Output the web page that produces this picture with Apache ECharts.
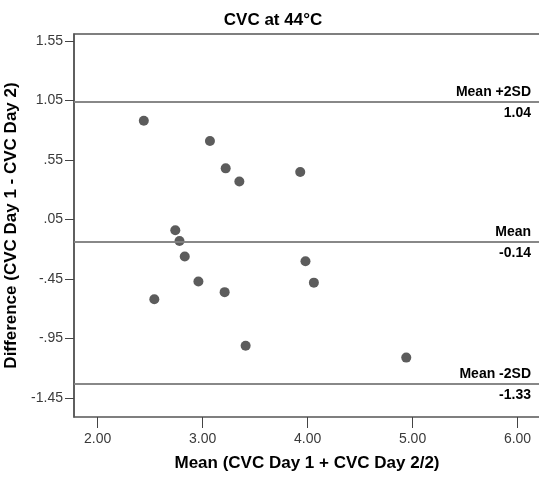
<!DOCTYPE html>
<html><head><meta charset="utf-8">
<script src="https://cdn.jsdelivr.net/npm/echarts@6/dist/echarts.min.js"></script>
<style>html,body{margin:0;padding:0;background:#fff}#c{width:539px;height:477px}</style>
</head><body><div id="c"></div>
<script>
var meanX = [2.44, 3.07, 3.22, 3.35, 3.93, 2.74, 2.78, 2.83, 2.96, 2.54, 3.21, 3.41, 3.98, 4.06, 4.94];
var diffY = [0.88, 0.71, 0.48, 0.37, 0.45, -0.04, -0.13, -0.26, -0.47, -0.62, -0.56, -1.01, -0.30, -0.48, -1.11];
var xTicks = [2, 3, 4, 5, 6];
var yTicks = [-1.45, -0.95, -0.45, 0.05, 0.55, 1.05, 1.55];
var refNames = ['Mean +2SD', 'Mean', 'Mean -2SD'];
var refValues = [1.04, -0.14, -1.33];

var font = 'Liberation Sans, Arial, sans-serif';
function yFmt(v){
  var s = v.toFixed(2);
  s = s.replace(/^0\./, '.').replace(/^-0\./, '-.');
  return s;
}
var pts = meanX.map(function(x,i){return [x, diffY[i]];});
var lineData = [];
refNames.forEach(function(n,i){
  lineData.push({yAxis: refValues[i], label:{formatter:n, position:'insideEndTop', distance:[9,3]}});
  lineData.push({yAxis: refValues[i], label:{formatter:refValues[i].toFixed(2), position:'insideEndBottom', distance:[9,4]}});
});
var chart = echarts.init(document.getElementById('c'));
chart.setOption({
  animation:false,
  title:{text:'CVC at 44°C', left:268, top:7, textAlign:'center',
    textStyle:{fontFamily:font, fontSize:17, fontWeight:'bold', color:'#000'}},
  grid:{left:74, right:-1, top:34, bottom:60, show:true, borderColor:'#555', borderWidth:1.5, backgroundColor:'#fff', outerBoundsMode:'none', containLabel:false},
  xAxis:{type:'value', min:1.775, max:6.214,
    name:'Mean (CVC Day 1 + CVC Day 2/2)', nameLocation:'middle', nameGap:38,
    nameTextStyle:{fontFamily:font, fontSize:17, fontWeight:'bold', color:'#000'},
    axisLine:{show:false, onZero:false},
    axisTick:{show:true, customValues:xTicks, length:11, lineStyle:{color:'#444'}},
    axisLabel:{customValues:xTicks, formatter:function(v){return v.toFixed(2);}, fontFamily:font, fontSize:14, color:'#3a3a3a', margin:15},
    splitLine:{show:false}},
  yAxis:{type:'value', min:-1.609, max:1.609,
    name:'Difference (CVC Day 1 - CVC Day 2)', nameLocation:'middle', nameGap:48,
    nameTextStyle:{fontFamily:font, fontSize:17, fontWeight:'bold', color:'#000'},
    axisLine:{show:true, onZero:false, lineStyle:{color:'#555', width:1.5}},
    axisTick:{show:true, customValues:yTicks, length:9, lineStyle:{color:'#444'}},
    axisLabel:{customValues:yTicks, formatter:yFmt, fontFamily:font, fontSize:14, color:'#3a3a3a', margin:11},
    splitLine:{show:false}},
  series:[{type:'scatter', data:pts, symbolSize:10, itemStyle:{color:'#5c5c5c', opacity:1},
    markLine:{silent:true, symbol:'none', animation:false,
      lineStyle:{color:'#808080', width:1.5, type:'solid'},
      label:{fontFamily:font, fontSize:14, fontWeight:'bold', color:'#000'},
      data:lineData}}]
});
</script></body></html>
